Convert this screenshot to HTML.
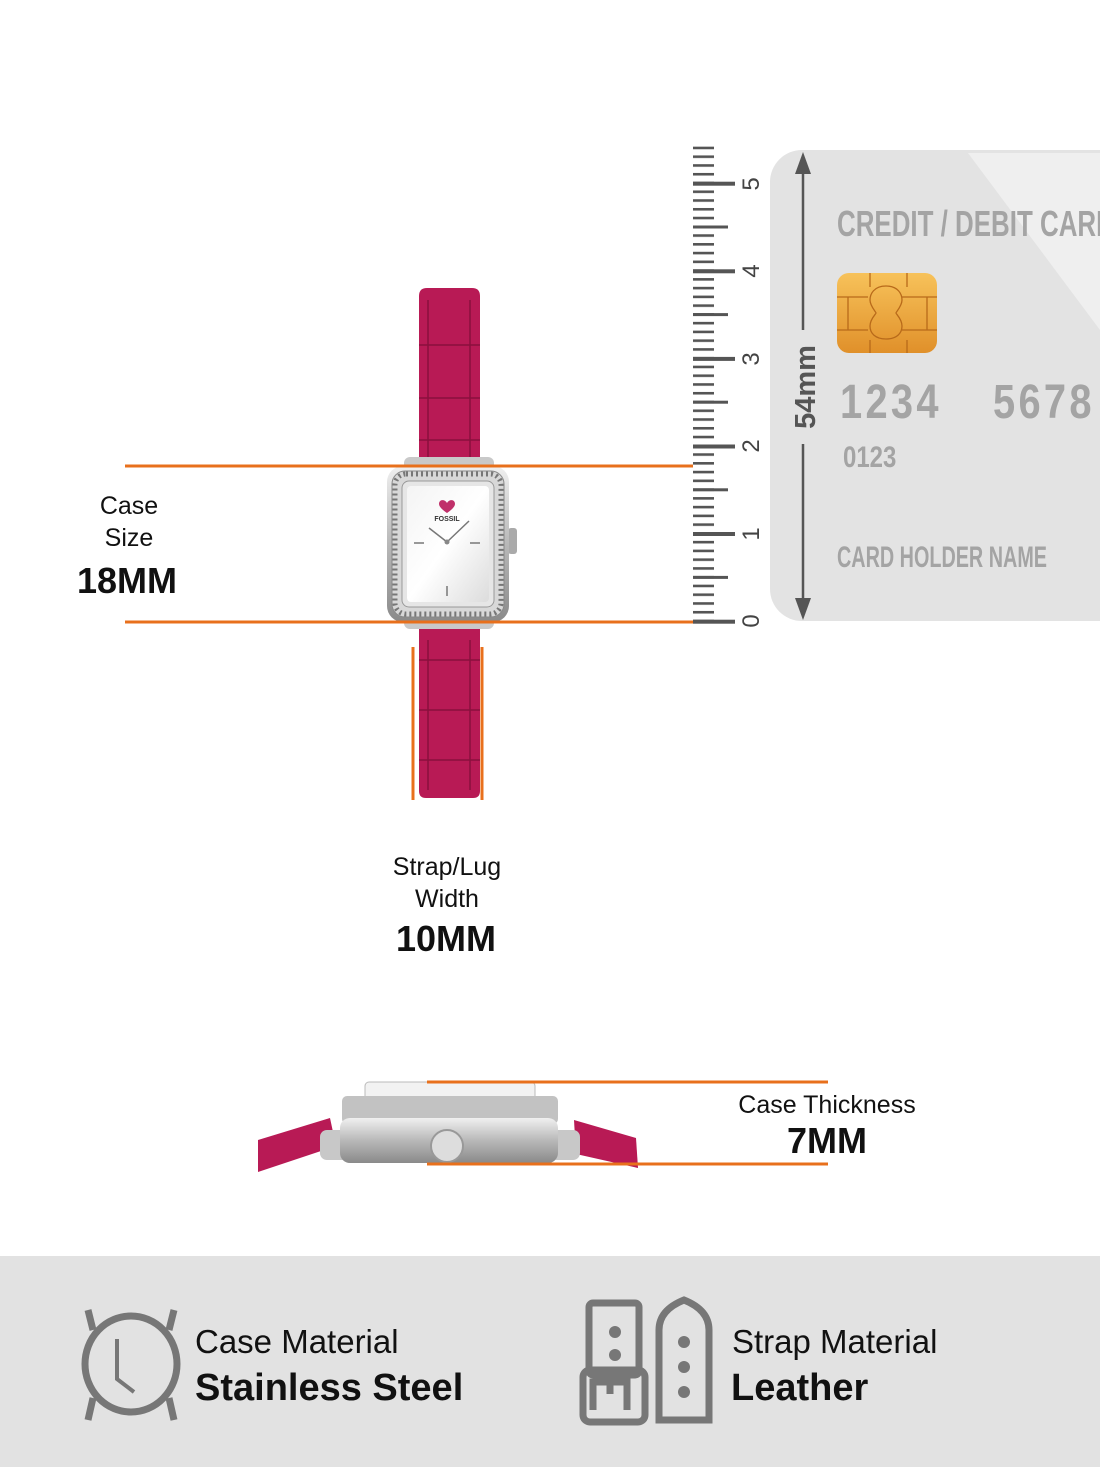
<!DOCTYPE html>
<html><head><meta charset="utf-8"><style>
html,body{margin:0;padding:0;background:#fff}
body{width:1100px;height:1467px;overflow:hidden;position:relative;font-family:"Liberation Sans",sans-serif}
svg{position:absolute;left:0;top:0}
</style></head><body>
<svg width="1100" height="1467" viewBox="0 0 1100 1467" xmlns="http://www.w3.org/2000/svg">
<defs>
<pattern id="tk" x="0" y="619.7" width="30" height="8.76" patternUnits="userSpaceOnUse">
<rect x="0" y="0" width="24" height="2.6" fill="#555"/>
</pattern>
<linearGradient id="chip" x1="0" y1="0" x2="0" y2="1"><stop offset="0" stop-color="#f7c25a"/><stop offset="1" stop-color="#e0902a"/></linearGradient>
<linearGradient id="face" x1="0" y1="0" x2="1" y2="1"><stop offset="0" stop-color="#f4f4f4"/><stop offset=".5" stop-color="#ffffff"/><stop offset="1" stop-color="#dcdcdc"/></linearGradient>
<linearGradient id="steel" x1="0" y1="0" x2="0" y2="1"><stop offset="0" stop-color="#f0f0f0"/><stop offset=".5" stop-color="#b8b8b8"/><stop offset="1" stop-color="#8a8a8a"/></linearGradient>
</defs>

<!-- card -->
<rect x="770" y="150" width="360" height="471" rx="32" fill="#e3e3e3"/>
<polygon points="968,153 1100,153 1100,330" fill="#efefef"/>
<text x="837" y="236" font-weight="bold" font-size="36" fill="#a4a4a4" transform="translate(837 0) scale(0.72 1) translate(-837 0)">CREDIT / DEBIT CARD</text>
<rect x="837" y="273" width="100" height="80" rx="12" fill="url(#chip)"/>
<g stroke="#b86a1a" stroke-width="1.3" fill="none">
<path d="M837 297H868M902 297H937M837 330H868M902 330H937M870 273V287M907 273V287M870 340V353M907 340V353M927 297V330M848 297V330"/>
<path d="M886 286c-12 0-16 8-16 14s6 12 6 13c0 1-6 6-6 13s5 13 16 13 16-6 16-13-6-12-6-13 6-7 6-13-4-14-16-14z"/>
</g>
<text x="840" y="418" font-weight="bold" font-size="48" fill="#a4a4a4" letter-spacing="4" transform="translate(840 0) scale(0.83 1) translate(-840 0)">1234</text>
<text x="993" y="418" font-weight="bold" font-size="48" fill="#a4a4a4" letter-spacing="4" transform="translate(993 0) scale(0.83 1) translate(-993 0)">5678</text>
<text x="843" y="467" font-weight="bold" font-size="30" fill="#a4a4a4" transform="translate(843 0) scale(0.8 1) translate(-843 0)">0123</text>
<text x="837" y="567" font-weight="bold" font-size="30" fill="#a4a4a4" transform="translate(837 0) scale(0.66 1) translate(-837 0)">CARD HOLDER NAME</text>
<!-- 54mm arrow -->
<line x1="803" y1="170" x2="803" y2="330" stroke="#555" stroke-width="2.5"/>
<line x1="803" y1="444" x2="803" y2="604" stroke="#555" stroke-width="2.5"/>
<polygon points="803,152 795,174 811,174" fill="#555"/>
<polygon points="803,620 795,598 811,598" fill="#555"/>
<text transform="translate(815 387) rotate(-90)" text-anchor="middle" font-weight="bold" font-size="29" fill="#555">54mm</text>

<!-- ruler -->
<rect x="693" y="146" width="24" height="478" fill="url(#tk)"/>
<g fill="#555">
<rect x="693" y="619.7" width="42" height="4"/><rect x="693" y="532" width="42" height="4"/><rect x="693" y="444.5" width="42" height="4"/><rect x="693" y="356.9" width="42" height="4"/><rect x="693" y="269.3" width="42" height="4"/><rect x="693" y="181.7" width="42" height="4"/>
<rect x="693" y="575.9" width="35" height="3"/><rect x="693" y="488.3" width="35" height="3"/><rect x="693" y="400.7" width="35" height="3"/><rect x="693" y="313.1" width="35" height="3"/><rect x="693" y="225.5" width="35" height="3"/>
</g>
<g font-size="24" fill="#444">
<text transform="translate(759 621) rotate(-90)" text-anchor="middle">0</text>
<text transform="translate(759 534) rotate(-90)" text-anchor="middle">1</text>
<text transform="translate(759 446) rotate(-90)" text-anchor="middle">2</text>
<text transform="translate(759 359) rotate(-90)" text-anchor="middle">3</text>
<text transform="translate(759 271) rotate(-90)" text-anchor="middle">4</text>
<text transform="translate(759 184) rotate(-90)" text-anchor="middle">5</text>
</g>

<!-- watch front -->
<path d="M419 296q0-8 8-8h45q8 0 8 8v176h-61z" fill="#b81a55"/>
<path d="M419 615h61v176q0 7-7 7h-47q-7 0-7-7z" fill="#b81a55"/>
<g stroke="#7e0d37" stroke-width="1.5" fill="none" opacity=".8">
<path d="M428 300V460M470 300V460M419 345h61M419 398h61M419 440h61M428 640V790M470 640V790M419 660h61M419 710h61M419 760h61"/>
</g>
<rect x="404" y="457" width="90" height="172" rx="6" fill="#c9c9c9"/>
<rect x="508" y="528" width="9" height="26" rx="3" fill="#aaa"/>
<rect x="387" y="466" width="122" height="156" rx="16" fill="url(#steel)"/>
<rect x="392" y="471" width="112" height="146" rx="13" fill="#d8d8d8" stroke="#888" stroke-width="1"/>
<rect x="395" y="474" width="106" height="140" rx="11" fill="none" stroke="#777" stroke-width="5" stroke-dasharray="2 3"/>
<rect x="402" y="481" width="92" height="126" rx="7" fill="#e6e6e6" stroke="#999"/>
<rect x="407" y="486" width="82" height="116" rx="4" fill="url(#face)"/>
<path d="M447 503c-2-4-8-4-8 1 0 4 8 9 8 9s8-5 8-9c0-5-6-5-8-1z" fill="#c0306a"/>
<text x="447" y="521" text-anchor="middle" font-size="7" font-weight="bold" fill="#333">FOSSIL</text>
<g stroke="#777" stroke-width="1.5"><line x1="447" y1="542" x2="429" y2="528"/><line x1="447" y1="542" x2="469" y2="521"/><line x1="414" y1="543" x2="424" y2="543"/><line x1="470" y1="543" x2="480" y2="543"/><line x1="447" y1="586" x2="447" y2="596"/></g>
<circle cx="447" cy="542" r="2.5" fill="#888"/>

<!-- orange lines -->
<g stroke="#e8701c" stroke-width="3">
<line x1="125" y1="466" x2="693" y2="466"/>
<line x1="125" y1="622" x2="693" y2="622"/>
<line x1="413" y1="647" x2="413" y2="800"/>
<line x1="482" y1="647" x2="482" y2="800"/>
</g>

<!-- labels -->
<g fill="#111" text-anchor="middle">
<text x="129" y="514" font-size="25">Case</text>
<text x="129" y="546" font-size="25">Size</text>
<text x="127" y="593" font-size="36" font-weight="bold">18MM</text>
<text x="447" y="875" font-size="25">Strap/Lug</text>
<text x="447" y="907" font-size="25">Width</text>
<text x="446" y="951" font-size="36" font-weight="bold">10MM</text>
<text x="827" y="1113" font-size="25">Case Thickness</text>
<text x="827" y="1153" font-size="36" font-weight="bold">7MM</text>
</g>

<!-- side view -->
<path d="M258 1140l72-22 6 28-78 26z" fill="#b81a55"/>
<path d="M574 1120l62 18 2 30-62-14z" fill="#b81a55"/>
<rect x="320" y="1130" width="30" height="30" rx="7" fill="#c8c8c8"/>
<rect x="550" y="1130" width="30" height="30" rx="7" fill="#c8c8c8"/>
<rect x="365" y="1082" width="170" height="32" rx="4" fill="#f2f2f2" stroke="#bbb"/>
<rect x="342" y="1096" width="216" height="28" rx="5" fill="#c2c2c2"/>
<rect x="340" y="1118" width="218" height="45" rx="10" fill="url(#steel)"/>
<circle cx="447" cy="1146" r="16" fill="#ddd" stroke="#999" stroke-width="2"/>
<g stroke="#e8701c" stroke-width="3">
<line x1="427" y1="1082" x2="828" y2="1082"/>
<line x1="427" y1="1164" x2="828" y2="1164"/>
</g>

<!-- bottom band -->
<rect x="0" y="1256" width="1100" height="211" fill="#e2e2e2"/>
<g fill="none" stroke="#777" stroke-width="7">
<ellipse cx="131" cy="1364" rx="46" ry="48"/>
<path d="M93 1330l-5-20M169 1330l5-20M93 1398l-5 22M169 1398l5 22"/>
</g>
<path d="M117 1339v40l17 13" fill="none" stroke="#777" stroke-width="4"/>
<text x="195" y="1353" font-size="33" fill="#111">Case Material</text>
<text x="195" y="1400" font-size="38" font-weight="bold" fill="#111">Stainless Steel</text>
<g fill="none" stroke="#777" stroke-width="7">
<rect x="589" y="1303" width="50" height="72" rx="4"/>
<rect x="583" y="1370" width="62" height="52" rx="7"/>
<path d="M593 1410v-28h34v28M610 1382v12"/>
<path d="M659 1420v-90q0-20 25-30q25 10 25 30v90z"/>
</g>
<g fill="#777"><circle cx="615" cy="1332" r="6"/><circle cx="615" cy="1355" r="6"/><circle cx="684" cy="1342" r="6"/><circle cx="684" cy="1367" r="6"/><circle cx="684" cy="1392" r="6"/></g>
<text x="732" y="1353" font-size="33" fill="#111">Strap Material</text>
<text x="731" y="1400" font-size="38" font-weight="bold" fill="#111">Leather</text>
</svg>
</body></html>
